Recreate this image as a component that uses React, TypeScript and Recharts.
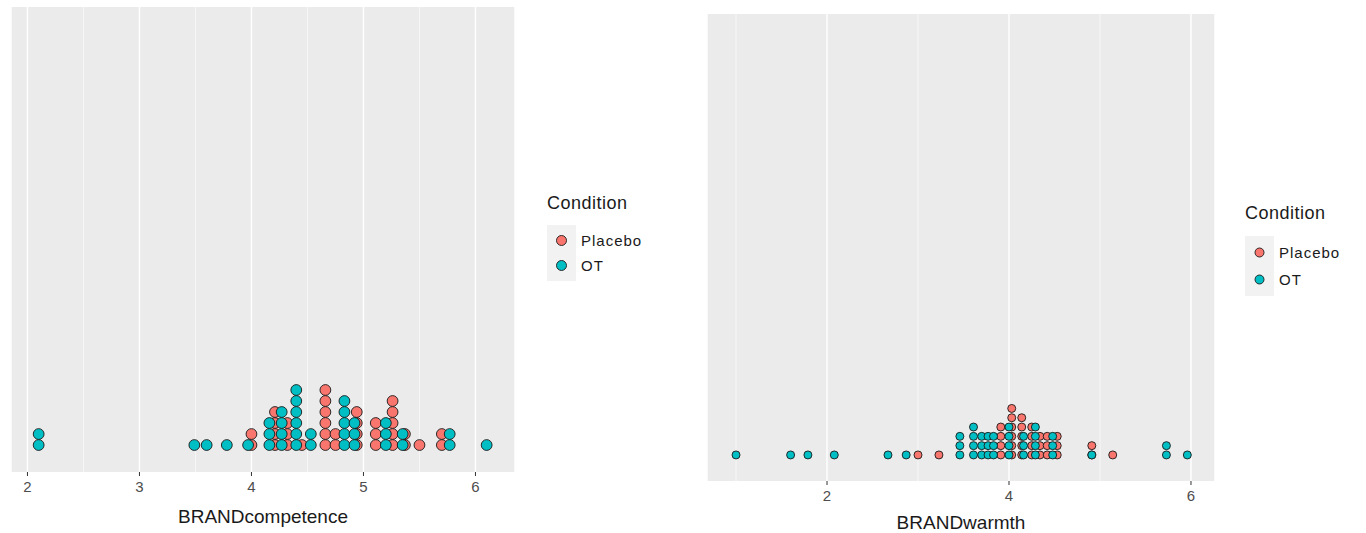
import { ScatterChart, Scatter, XAxis, YAxis, CartesianGrid, ReferenceLine } from "recharts";

const PLACEBO = "#F8766D";
const OT = "#00BFC4";

// BRANDcompetence: dot column positions and stack heights per group
const competencePlaceboX = [4.0, 4.21, 4.32, 4.45, 4.66, 4.75, 4.94, 5.11, 5.26, 5.37, 5.5, 5.7];
const competencePlaceboN = [2, 4, 3, 1, 6, 2, 4, 3, 5, 2, 1, 2];
const competenceOtX = [2.1, 3.49, 3.6, 3.78, 3.97, 4.16, 4.27, 4.4, 4.53, 4.83, 4.92, 5.2, 5.35, 5.77, 6.1];
const competenceOtN = [2, 1, 1, 1, 1, 3, 4, 6, 2, 5, 3, 3, 2, 2, 1];
const competenceTicks = [2, 3, 4, 5, 6];
const competenceMinor = [2.5, 3.5, 4.5, 5.5];

// BRANDwarmth
const warmthPlaceboX = [3.0, 3.23, 3.91, 4.03, 4.14, 4.25, 4.34, 4.42, 4.53, 4.91, 5.14];
const warmthPlaceboN = [1, 1, 4, 6, 5, 4, 3, 3, 3, 2, 1];
const warmthOtX = [1.0, 1.6, 1.79, 2.08, 2.67, 2.87, 3.46, 3.61, 3.7, 3.77, 3.83, 4.0, 4.16, 4.29, 4.48, 4.91, 5.73, 5.96];
const warmthOtN = [1, 1, 1, 1, 1, 1, 3, 4, 3, 3, 3, 4, 3, 4, 3, 1, 2, 1];
const warmthTicks = [2, 4, 6];
const warmthMinor = [1, 3, 5];

const groups = ["Placebo", "OT"];

function stack(xs: number[], ns: number[]) {
  const pts: { x: number; y: number }[] = [];
  xs.forEach((x, i) => {
    for (let k = 1; k <= ns[i]; k++) pts.push({ x, y: k });
  });
  return pts;
}

const dot = (fill: string, r: number) => (p: any) =>
  <circle cx={p.cx} cy={p.cy} r={r} fill={fill} stroke="#1a1a1a" strokeWidth={0.9} />;

interface PanelProps {
  left: number;
  width: number;
  margin: { top: number; right: number; bottom: number; left: number };
  axisHeight: number;
  domain: [number, number];
  yDomain: [number, number];
  ticks: number[];
  minor: number[];
  title: string;
  placebo: { x: number; y: number }[];
  ot: { x: number; y: number }[];
  r: number;
}

function DotPanel(p: PanelProps) {
  return (
    <div style={{ position: "absolute", left: p.left, top: 0 }}>
      <ScatterChart width={p.width} height={533} margin={p.margin}>
        <CartesianGrid horizontal={false} fill="#EBEBEB" stroke="#FFFFFF" strokeWidth={1.4} />
        {p.minor.map((m) => (
          <ReferenceLine key={m} x={m} stroke="#FFFFFF" strokeWidth={0.6} />
        ))}
        <XAxis
          type="number"
          dataKey="x"
          domain={p.domain}
          ticks={p.ticks}
          interval={0}
          allowDataOverflow
          axisLine={false}
          tickLine={{ stroke: "#333333" }}
          tickSize={4}
          tickMargin={5}
          tick={{ fill: "#4D4D4D", fontSize: 15 }}
          height={p.axisHeight}
          label={{ value: p.title, position: "insideBottom", offset: 4, fill: "#1A1A1A", fontSize: 19 }}
        />
        <YAxis type="number" dataKey="y" domain={p.yDomain} hide allowDataOverflow width={0} />
        <Scatter data={p.placebo} isAnimationActive={false} shape={dot(PLACEBO, p.r)} />
        <Scatter data={p.ot} isAnimationActive={false} shape={dot(OT, p.r)} />
      </ScatterChart>
    </div>
  );
}

function ConditionLegend({ x, y, r, gap, keyTop }: { x: number; y: number; r: number; gap: number; keyTop: number }) {
  const colors = [PLACEBO, OT];
  return (
    <div style={{ position: "absolute", left: x, top: y, color: "#1A1A1A" }}>
      <div style={{ fontSize: 18, lineHeight: "20px", letterSpacing: 0.5 }}>Condition</div>
      <div style={{ position: "relative", marginTop: keyTop }}>
        <div style={{ position: "absolute", left: 0, top: 0, width: 29, height: gap * 2 + 6, background: "#F2F2F2" }} />
        {groups.map((g, i) => (
          <div key={g} style={{ position: "absolute", left: 0, top: 3 + i * gap, height: gap, display: "flex", alignItems: "center" }}>
            <svg width={29} height={gap}>
              <circle cx={14.5} cy={gap / 2} r={r} fill={colors[i]} stroke="#1a1a1a" strokeWidth={0.9} />
            </svg>
            <span style={{ marginLeft: 5, fontSize: 15, letterSpacing: 1, whiteSpace: "nowrap" }}>{g}</span>
          </div>
        ))}
      </div>
    </div>
  );
}

export default function App() {
  return (
    <div
      style={{
        position: "absolute",
        left: 0,
        top: 0,
        width: 1366,
        height: 533,
        background: "#FFFFFF",
        fontFamily: "'Liberation Sans', Arial, sans-serif",
        overflow: "hidden",
      }}
    >
      <DotPanel
        left={0}
        width={540}
        margin={{ top: 7, right: 25, left: 11, bottom: 6 }}
        axisHeight={55}
        domain={[1.853, 6.353]}
        yDomain={[-1.45, 40.8]}
        ticks={competenceTicks}
        minor={competenceMinor}
        title="BRANDcompetence"
        placebo={stack(competencePlaceboX, competencePlaceboN)}
        ot={stack(competenceOtX, competenceOtN)}
        r={5.4}
      />
      <ConditionLegend x={547} y={193} r={5} gap={25} keyTop={12} />
      <DotPanel
        left={690}
        width={560}
        margin={{ top: 14, right: 35, left: 17, bottom: 0 }}
        axisHeight={52}
        domain={[0.681, 6.264]}
        yDomain={[-1.8, 48.4]}
        ticks={warmthTicks}
        minor={warmthMinor}
        title="BRANDwarmth"
        placebo={stack(warmthPlaceboX, warmthPlaceboN)}
        ot={stack(warmthOtX, warmthOtN)}
        r={4}
      />
      <ConditionLegend x={1245} y={203} r={4.5} gap={27} keyTop={13} />
    </div>
  );
}
